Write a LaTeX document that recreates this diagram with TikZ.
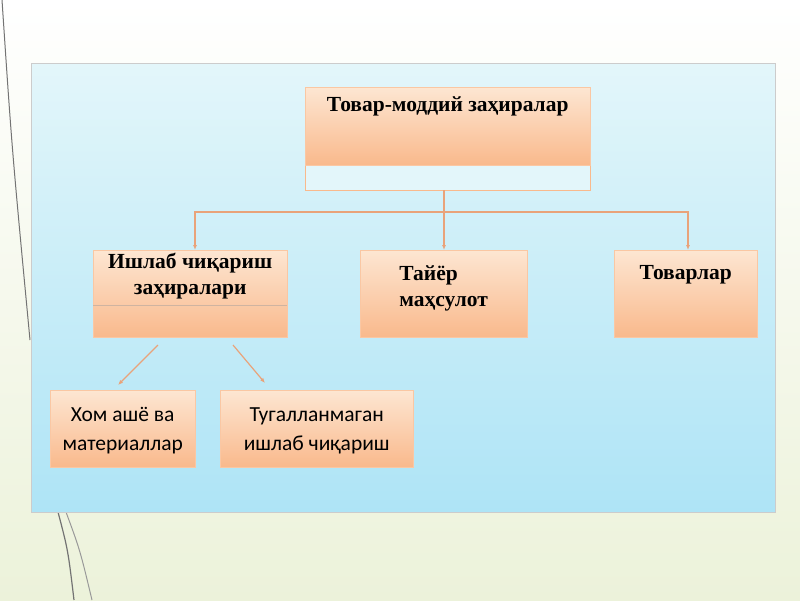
\documentclass[tikz,border=0pt]{standalone}
\usepackage{fontspec}
\setmainfont{Liberation Serif}
\newfontfamily\boxsans{Carlito}
\usetikzlibrary{arrows.meta,positioning}
\definecolor{boxtop}{HTML}{FDE6D2}
\definecolor{boxbot}{HTML}{F9B98C}
\definecolor{linkc}{HTML}{E9A37A}
\definecolor{paneltop}{HTML}{E3F6FA}
\definecolor{panelbot}{HTML}{AEE4F6}
\tikzset{>={Latex[width=4pt,length=5pt]}}
\tikzset{
  stock/.style={draw=boxbot!80!white, top color=boxtop, bottom color=boxbot,
    inner sep=4pt, align=center},
  bold/.style={font=\bfseries\fontsize{21.5}{26}\selectfont},
  plain/.style={font=\boxsans\fontsize{21.5}{29}\selectfont, align=center},
  link/.style={draw=linkc, line width=1.6pt}
}
\begin{document}
\begin{tikzpicture}[x=1pt,y=-1pt]

  % background
  \shade[top color=white, bottom color={rgb,255:red,236;green,242;blue,218}] (0,0) rectangle (800,600);
  \useasboundingbox (0,0) rectangle (800,600);
  \draw[black!55, line width=1pt] (2,0) .. controls (12,150) .. (30,340);
  \draw[black!55, line width=1.2pt] (58,512) .. controls (68,550) .. (74,600);
  \draw[black!40, line width=1pt] (66,512) .. controls (80,550) .. (92,600);

  % panel
  \shade[top color=paneltop, bottom color=panelbot, draw=black!20] (31,63) rectangle (775,512);

  % nodes
  \node[draw=boxbot, fill=paneltop, minimum width=285, minimum height=103, anchor=north west] (frame) at (305,87) {};
  \node[stock, minimum width=285, minimum height=78, anchor=north west] (root) at (305,87) {};
  \node[bold, anchor=north, yshift=-6pt] at (root.north) {Товар-моддий заҳиралар};

  \node[stock, minimum width=194, minimum height=87, anchor=north west] (prod) at (93,250) {};
  \node[bold, anchor=north, align=center, yshift=0pt] at (prod.north) {Ишлаб чиқариш\\ заҳиралари};
  \draw[boxbot!70!black!60] (prod.west |- 0,305) -- (prod.east |- 0,305);

  \node[stock, minimum width=167, minimum height=87, anchor=north west] (ready) at (360,250) {};
  \node[bold, anchor=north, align=left, yshift=-12pt] at (ready.north) {Тайёр\\маҳсулот};

  \node[stock, minimum width=143, minimum height=87, anchor=north west] (goods) at (614,250) {};
  \node[bold, anchor=north, yshift=-12pt] at (goods.north) {Товарлар};

  \node[stock, minimum width=145, minimum height=77, anchor=north west] (raw) at (50,390) {};
  \node[plain, yshift=-2pt] at (raw) {Хом ашё ва\\материаллар};

  \node[stock, minimum width=193, minimum height=77, anchor=north west] (wip) at (220,390) {};
  \node[plain, yshift=-2pt] at (wip) {Тугалланмаган\\ишлаб чиқариш};

  % connectors
  \coordinate (hub) at (444,212);
  \draw[link] (frame.south -| hub) -- (hub);
  \draw[link,->] (hub) -| (prod.north -| 195,0);
  \draw[link,->] (hub) -- (ready.north -| hub);
  \draw[link,->] (hub) -| (goods.north -| 688,0);
  \coordinate (pa) at (158,345);
  \coordinate (pb) at (233,345);
  \draw[link,->, line width=1.2pt] (pa) -- (118,385);
  \draw[link,->, line width=1.2pt] (pb) -- (265,383);

\end{tikzpicture}
\end{document}
